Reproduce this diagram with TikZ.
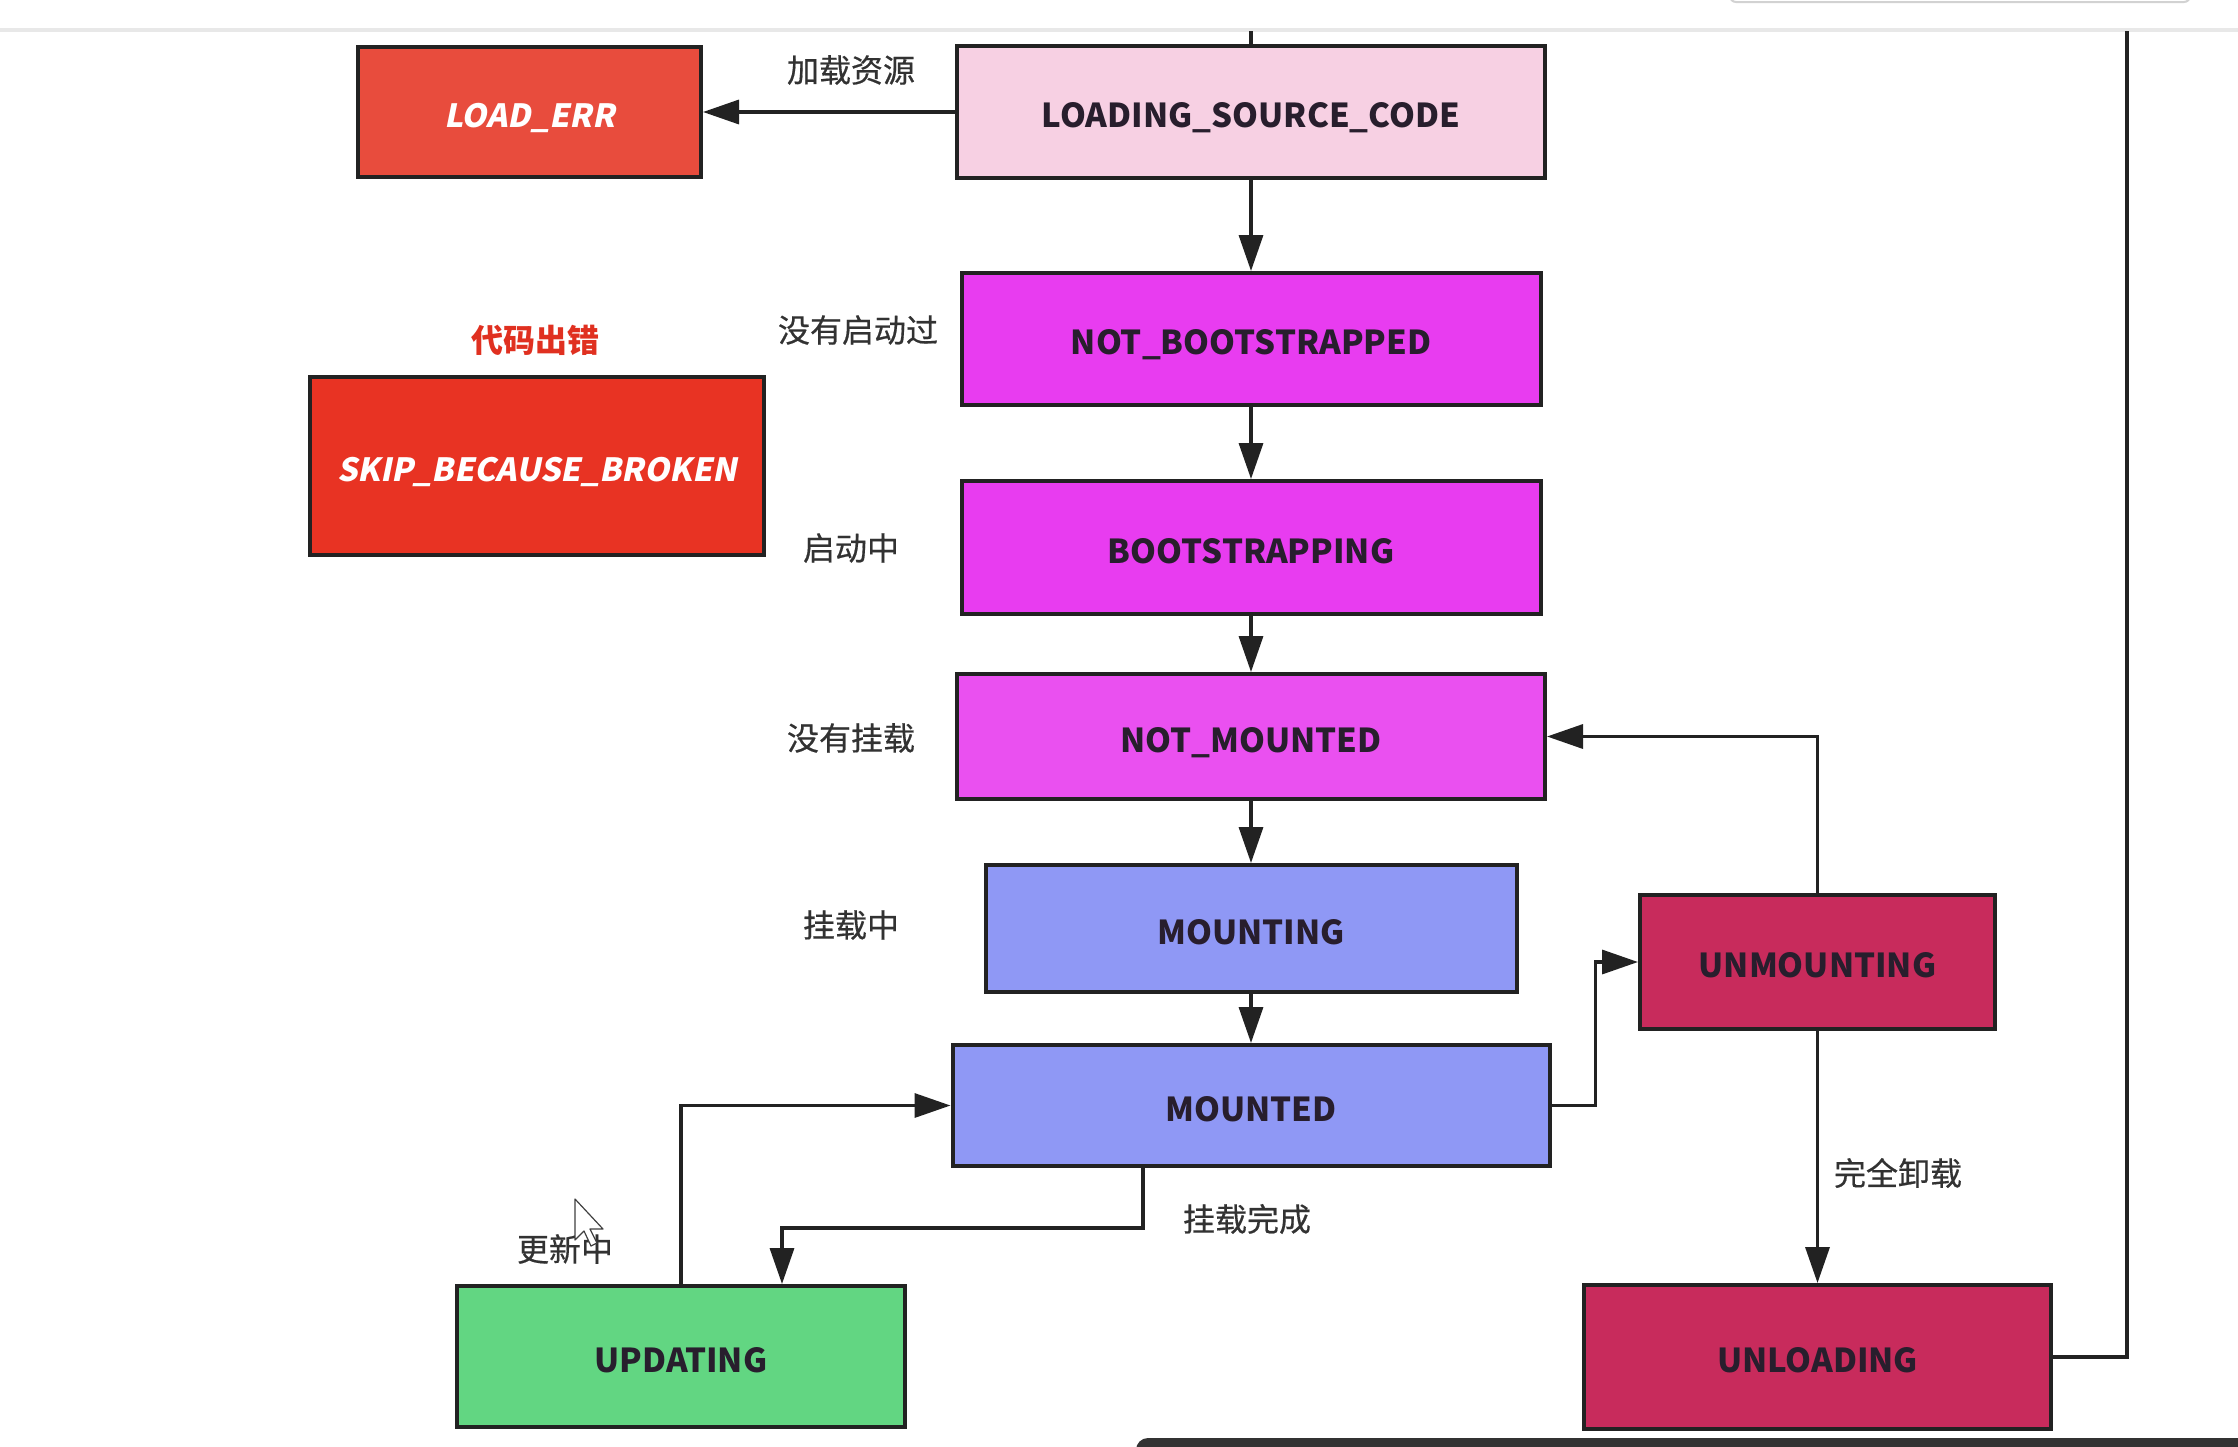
\documentclass[tikz,border=0pt]{standalone}
\usepackage{fontspec}
\setmainfont{Noto Sans CJK SC}
\newfontfamily\cjk{Noto Sans CJK SC}
\newfontfamily\cjkm[FakeBold=0.5]{Noto Sans CJK SC}
\newfontfamily\cjkit[FakeSlant=0.2]{Noto Sans CJK SC}
\usetikzlibrary{arrows.meta,calc}
\definecolor{cLE}{RGB}{232,76,61}
\definecolor{cSK}{RGB}{232,51,35}
\definecolor{cLS}{RGB}{247,208,227}
\definecolor{cMG}{RGB}{232,60,240}
\definecolor{cNM}{RGB}{234,80,240}
\definecolor{cBL}{RGB}{143,152,245}
\definecolor{cCR}{RGB}{200,43,92}
\definecolor{cGR}{RGB}{98,214,130}
\definecolor{cLine}{RGB}{34,34,34}
\definecolor{cTxt}{RGB}{40,30,45}
\definecolor{cLbl}{RGB}{50,50,50}
\tikzset{
  state/.style={draw=cLine, line width=2pt, inner sep=0pt, align=center,
    text height=15.5pt, text depth=0pt,
    font=\cjk\bfseries\fontsize{16.5}{20}\selectfont, text=cTxt},
  errstate/.style={state, text=white, font=\cjkit\bfseries\fontsize{16}{20}\selectfont},
  lbl/.style={font=\cjkm\fontsize{16}{19}\selectfont, text=cLbl, inner sep=0pt},
  conn/.style={draw=cLine, line width=1.7pt},
  arr/.style={conn, -{Triangle[length=18pt,width=12pt]}}
}
\begin{document}
\begin{tikzpicture}[x=0.5pt,y=-0.5pt]
\useasboundingbox (0,0) rectangle (2238,1446);
\fill[white] (0,0) rectangle (2238,1446);
% screenshot artefacts
\fill[gray!18] (0,28) rectangle (2238,32);
\draw[gray!35, line width=1pt, rounded corners=3pt] (1730,-20) rectangle (2190,2);
\fill[black!80, rounded corners=6pt] (1136,1438) rectangle (2260,1470);

% nodes
\node[errstate, fill=cLE, minimum width=171.5pt, minimum height=65pt] (le) at (529.5,112) {LOAD\_ERR};
\node[state, fill=cLS, minimum width=294pt, minimum height=66pt] (lsc) at (1251,112) {LOADING\_SOURCE\_CODE};
\node[state, fill=cMG, minimum width=289.5pt, minimum height=66pt] (nb) at (1251,339) {NOT\_BOOTSTRAPPED};
\node[state, fill=cMG, minimum width=289.5pt, minimum height=66.5pt] (bs) at (1251,547.5) {BOOTSTRAPPING};
\node[state, fill=cNM, minimum width=294pt, minimum height=62.5pt] (nm) at (1251,736.5) {NOT\_MOUNTED};
\node[state, fill=cBL, minimum width=265.5pt, minimum height=63.5pt] (mi) at (1251,928.5) {MOUNTING};
\node[state, fill=cBL, minimum width=298.5pt, minimum height=60.5pt] (md) at (1251,1105.5) {MOUNTED};
\node[state, fill=cCR, minimum width=177.5pt, minimum height=67pt] (um) at (1817.5,962) {UNMOUNTING};
\node[state, fill=cGR, minimum width=224pt, minimum height=70.5pt] (up) at (681,1356.5) {UPDATING};
\node[state, fill=cCR, minimum width=233.5pt, minimum height=72pt] (ul) at (1817.5,1357) {UNLOADING};
\node[errstate, fill=cSK, minimum width=227pt, minimum height=89pt] (sk) at (537,466) {SKIP\_BECAUSE\_BROKEN};

% labels
\node[lbl] (l1) at (851,70) {加载资源};
\node[lbl] (l2) at (858,330) {没有启动过};
\node[lbl] (l3) at (851,548) {启动中};
\node[lbl] (l4) at (851,738) {没有挂载};
\node[lbl] (l5) at (851,925) {挂载中};
\node[lbl] (l6) at (565,1249) {更新中};
\node[lbl] (l7) at (1247,1219) {挂载完成};
\node[lbl] (l8) at (1898,1173) {完全卸载};
\node[lbl, text={rgb,255:red,224;green,48;blue,32}, font=\cjk\bfseries\fontsize{16}{19}\selectfont] (l9) at (535,340) {代码出错};

% connectors
\coordinate (topC) at (1251,31);
\coordinate (topR) at (2127,31);
\draw[conn] (topC) -- (lsc.north);
\draw[arr] (lsc.west) -- (le.east);
\draw[arr] (lsc.south) -- (nb.north);
\draw[arr] (nb.south) -- (bs.north);
\draw[arr] (bs.south) -- (nm.north);
\draw[arr] (nm.south) -- (mi.north);
\draw[arr] (mi.south) -- (md.north);
\draw[arr] (md.east) -- ++(44,0) |- (um.west);
\draw[arr] (um.north) |- (nm.east);
\draw[arr] (um.south) -- (ul.north);
\draw[arr] ([xshift=-54pt]md.south) -- ++(0,60) -| ([xshift=50.5pt]up.north);
\draw[arr] (up.north) |- (md.west);
\draw[conn] (ul.east) -| (topR);

% mouse cursor
\draw[black!75, fill=white, line width=0.6pt, line join=round]
  (575,1199) -- (575,1240) -- (584,1231) -- (591,1246) -- (597,1243) -- (590,1229) -- (603,1229) -- cycle;
\end{tikzpicture}
\end{document}
